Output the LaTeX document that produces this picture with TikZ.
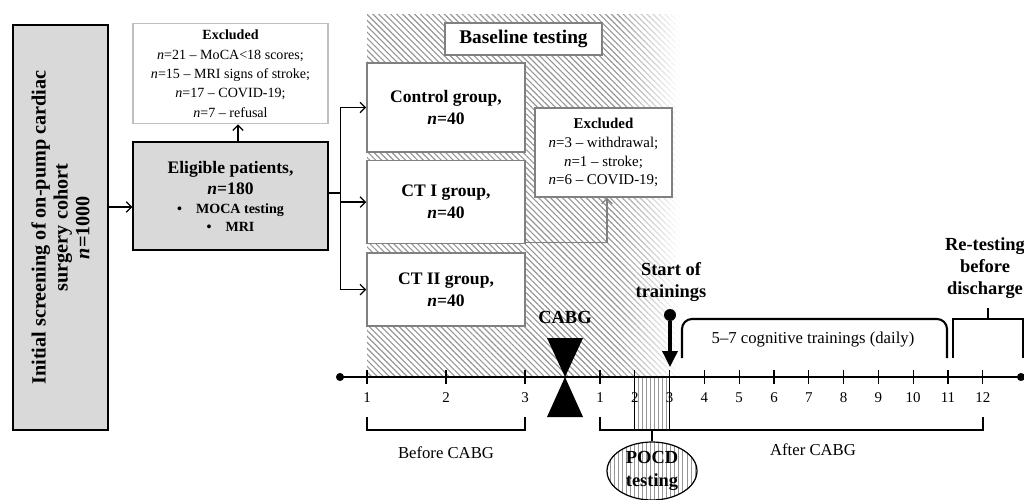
\documentclass[tikz,border=0pt]{standalone}
\usepackage{fontspec}
\setmainfont{Liberation Serif}
\usetikzlibrary{positioning, arrows.meta, patterns.meta, shapes.geometric}
\definecolor{boxgrey}{RGB}{217,217,217}
\definecolor{edgegrey}{RGB}{128,128,128}
\definecolor{lightedge}{RGB}{191,191,191}
\definecolor{hatchgrey}{RGB}{150,150,150}

\begin{document}
\begin{tikzpicture}[x=0.02cm, y=-0.02cm, >={Straight Barb[length=3pt,width=6pt]},
        greybox/.style={draw, line width=0.8pt, fill=boxgrey, align=center},
        groupbox/.style={draw=edgegrey, line width=0.9pt, fill=white, align=center, minimum width=3.16cm, font=\fontsize{10}{12.5}\selectfont\bfseries},
        exclbox/.style={draw=edgegrey, line width=0.7pt, fill=white, align=center, inner sep=2pt},
        lbl/.style={align=center, inner sep=1pt, font=\fontsize{10.5}{12.5}\selectfont\bfseries},
        plain/.style={inner sep=1pt, font=\fontsize{9.5}{11}\selectfont},
        num/.style={inner sep=1pt, font=\fontsize{8.5}{10}\selectfont},
        con/.style={->, line width=0.7pt},
        tickmark/.style={line width=0.7pt},
        hatch/.style={pattern={Lines[angle=135, distance=2.4pt, line width=0.65pt]}}]
    \useasboundingbox (0,0) rectangle (1024,500);
    % baseline period, fading out to the right
    \fill[hatch, pattern color=hatchgrey] (367,15) rectangle (620,377);
    \foreach \i in {0,...,11} {
        \pgfmathtruncatemacro\pct{92-8*\i}
        \fill[hatch, pattern color=hatchgrey!\pct!white] (620+5*\i,15) rectangle (625+5*\i,377);
    }

    % flow part
    \node[greybox, rotate=90, minimum width=8.1cm, minimum height=1.9cm, font=\fontsize{11.5}{12.5}\selectfont\bfseries] (screen) at (60.5,227.5) {Initial screening of on-pump cardiac\\surgery cohort\\\textit{n}=1000};
    \node[greybox, minimum width=3.9cm, minimum height=2.16cm, font=\fontsize{8}{10}\selectfont\bfseries] (elig) at (230.5,196) {{\fontsize{10}{12}\selectfont Eligible patients,}\\[2pt]{\fontsize{10}{12}\selectfont\textit{n}=180}\\[1pt]•\quad MOCA testing\\•\quad MRI};
    \node[exclbox, draw=lightedge, minimum width=3.9cm, minimum height=2cm, above=0.34cm of elig, font=\fontsize{8}{11}\selectfont] (excl1) {\textbf{Excluded}\\\textit{n}=21 -- MoCA<18 scores;\\\textit{n}=15 -- MRI signs of stroke;\\\textit{n}=17 -- COVID-19;\\\textit{n}=7 -- refusal};
    \node[groupbox, minimum height=1.78cm] (ctrl) at (446,107.5) {Control group,\\\textit{n}=40};
    \node[groupbox, minimum height=1.66cm, below=0.14cm of ctrl] (ct1) {CT I group,\\\textit{n}=40};
    \node[groupbox, minimum height=1.46cm, below=0.16cm of ct1] (ct2) {CT II group,\\\textit{n}=40};
    \node[exclbox, line width=0.9pt, minimum width=3.14cm, minimum height=0.64cm, font=\fontsize{11}{13}\selectfont\bfseries] (base) at (523.5,39) {Baseline testing};
    \node[exclbox, minimum width=2.74cm, minimum height=1.78cm, font=\fontsize{8.5}{10.8}\selectfont] (excl2) at (603.5,152.5) {\textbf{Excluded}\\\textit{n}=3 -- withdrawal;\\\textit{n}=1 -- stroke;\\\textit{n}=6 -- COVID-19;};

    \coordinate (in) at ([yshift=-0.22cm]elig.west);
    \draw[con] (in -| screen.south) -- (in);
    \draw[con] ([xshift=0.15cm]elig.north) -- ([xshift=0.15cm]excl1.south);
    \coordinate (split) at ([xshift=0.24cm, yshift=0.06cm]elig.east);
    \draw[line width=0.7pt] (elig.east |- split) -- (split);
    \draw[line width=0.7pt] (split |- ctrl.west) -- (split |- ct2.west);
    \foreach \g in {ctrl, ct1, ct2} \draw[con] (split |- \g.west) -- (\g.west);
    \draw[con, edgegrey] ([yshift=0.04cm]ct1.south east) -| ([xshift=0.07cm]excl2.south);

    % time line
    \coordinate (tstart) at (340,377);
    \coordinate (tend) at (1021,377);
    \fill[pattern={Lines[angle=90, distance=2.3pt, line width=0.5pt]}, pattern color=hatchgrey] (634.8,377) rectangle (669.6,430);
    \draw[line width=0.9pt] (tstart) -- (tend);
    \fill (tstart) circle (2.3pt) (tend) circle (2.3pt);
    \foreach \x/\n in {367/1, 446/2, 525/3} {
        \draw[tickmark] (\x,370) -- (\x,384);
        \node[num] at (\x,398) {\n};
    }
    \draw[tickmark] (367,417) -- (367,430) -- (525,430) -- (525,417);
    \node[plain] (before) at (446,453) {Before CABG};
    \foreach \n [evaluate=\n as \x using 600+34.8*(\n-1)] in {1,...,12} {
        \draw[tickmark] (\x,370) -- (\x,384);
        \node[num] at (\x,398) {\n};
    }
    \draw[tickmark] (634.8,377) -- (634.8,430) (669.6,377) -- (669.6,430);
    \draw[tickmark] (600,417) -- (600,430) -- (983,430) -- (983,417);
    \node[plain] (after) at (813,450) {After CABG};
    \node[ellipse, draw, line width=0.7pt, minimum width=1.8cm, minimum height=1.16cm, inner sep=0pt, pattern={Lines[angle=90, distance=2.3pt, line width=0.5pt]}, pattern color=hatchgrey, align=center, font=\fontsize{10.5}{13}\selectfont\bfseries] (pocd) at (652,471) {POCD\\testing};
    \draw[tickmark] (652,430) -- (pocd.north);

    % surgery
    \coordinate (cabg) at (565,377);
    \fill (cabg) -- (547,338) -- (583,338) -- cycle;
    \fill (cabg) -- (583,417) -- (547,417) -- cycle;
    \node[lbl] (cabglbl) at (565,317) {CABG};

    % trainings
    \node[lbl] (startlbl) at (671,282) {Start of\\trainings};
    \node[circle, fill, inner sep=0pt, minimum size=0.24cm] (pin) at (670,315) {};
    \coordinate (pintip) at (670,367);
    \draw[-{Triangle[width=8.5pt, length=9pt]}, line width=1.8pt] (pin) -- (pintip);
    \draw[line width=1.2pt, rounded corners=0.2cm] (682,358) -- (682,319) -- (947,319) -- (947,358);
    \node[plain] (trainlbl) at (813,340) {5--7 cognitive trainings (daily)};
    \draw[line width=1.2pt] (953,358) -- (953,319) -- (1023,319) -- (1023,358);
    \node[lbl] (retest) at (985,268) {Re-testing\\before\\discharge};
    \coordinate (stubtop) at (988,308);
    \draw[line width=1.2pt] (988,319) -- (stubtop);
\end{tikzpicture}
\end{document}
